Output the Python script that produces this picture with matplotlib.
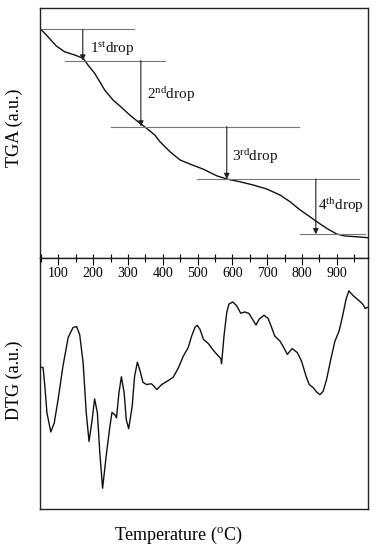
import matplotlib.pyplot as plt
from matplotlib.ticker import MultipleLocator, NullLocator

plt.rcParams['font.family'] = ['Liberation Serif', 'DejaVu Serif']
plt.rcParams['mathtext.default'] = 'regular'

# TGA curve (arbitrary units)
tga_temp = [47, 70, 94, 118, 147, 171, 185, 204, 219, 233, 257, 281, 305,
            329, 348, 377, 392, 421, 450, 478, 517, 555, 584, 622, 660, 699,
            737, 766, 795, 823, 843, 871, 900, 924, 957, 991]
tga_val = [91.9, 88.5, 84.8, 82.5, 81.2, 79.9, 77.2, 73.9, 70.5, 67.2, 63.2,
           60.3, 57.2, 54.5, 52.5, 49.2, 46.5, 42.5, 39.2, 37.6, 35.5, 32.9,
           31.6, 30.5, 29.2, 27.6, 25.2, 22.5, 19.2, 16.5, 14.5, 11.9, 9.6,
           8.8, 8.5, 8.1]

# DTG curve (arbitrary units)
dtg_temp = [47, 49, 56, 61, 67, 78, 88, 99, 113, 128, 142, 152, 161, 171,
            180, 188, 197, 204, 212, 219, 227, 238, 248, 254, 262, 267, 274,
            281, 289, 295, 302, 312, 319, 327, 335, 343, 353, 367, 373, 383,
            397, 416, 430, 445, 459, 473, 483, 493, 499, 507, 517, 531, 545,
            560, 567, 569, 576, 584, 590, 601, 613, 624, 636, 648, 658, 668,
            677, 691, 703, 713, 722, 737, 748, 758, 772, 787, 799, 812, 821,
            833, 843, 852, 861, 871, 883, 895, 907, 917, 927, 935, 948, 962,
            975, 982, 988]
dtg_val = [56.5, 56.5, 56.3, 48.9, 38.3, 30.7, 34.3, 43.6, 56.9, 68.3, 72.3,
           72.7, 69.6, 58.3, 38.3, 26.9, 35.6, 43.9, 38.3, 22.3, 8.3, 22.0,
           32.9, 38.5, 37.6, 36.3, 46.3, 52.7, 46.3, 35.6, 32.0, 40.9, 52.9,
           58.5, 54.9, 50.5, 49.6, 49.9, 49.2, 47.6, 49.6, 51.2, 52.5, 56.3,
           60.9, 64.3, 68.9, 72.5, 73.2, 71.6, 67.6, 65.9, 63.3, 60.9, 59.9,
           57.9, 68.9, 78.3, 81.6, 82.5, 80.9, 78.0, 78.5, 77.9, 75.6, 73.3,
           75.6, 77.2, 75.9, 72.3, 68.9, 66.9, 64.3, 61.6, 63.9, 62.3, 58.9,
           52.9, 49.6, 48.3, 46.5, 45.6, 46.9, 51.6, 59.6, 66.9, 70.9, 76.9,
           83.6, 86.9, 84.9, 83.3, 81.6, 79.9, 80.3]

# drop levels: horizontal guide lines (level, x start, x end)
level_y = [91.5, 79.0, 52.6, 31.6, 9.5]
level_x0 = [47, 118, 250, 499, 795]
level_x1 = [316, 405, 792, 965, 982]

# arrows and labels for each drop
arrow_x = [170, 337, 584, 840]
drop_names = ['1$^{st}$drop', '2$^{nd}$drop', '3$^{rd}$drop', '4$^{th}$drop']
label_x = [191, 354, 598, 847]
label_y = [83.6, 65.2, 40.6, 20.8]

fig = plt.figure(figsize=(3.78, 5.5), dpi=100)
ax1 = fig.add_axes([0.1058, 0.5309, 0.8677, 0.4545])
ax2 = fig.add_axes([0.1058, 0.0745, 0.8677, 0.4564])

for ax in (ax1, ax2):
    ax.set_xlim(47, 990)
    ax.set_ylim(0, 100)
    ax.yaxis.set_major_locator(NullLocator())
    ax.xaxis.set_major_locator(MultipleLocator(100))
    ax.xaxis.set_minor_locator(MultipleLocator(50))
    for s in ax.spines.values():
        s.set_linewidth(1.0)
        s.set_color('#222222')

# top panel: TGA
ax1.plot(tga_temp, tga_val, color='#111111', lw=1.0)
for i in range(len(level_y)):
    ax1.plot([level_x0[i], level_x1[i]], [level_y[i], level_y[i]],
             color='#777777', lw=0.8)
for i in range(len(arrow_x)):
    ax1.annotate('', xy=(arrow_x[i], level_y[i + 1]),
                 xytext=(arrow_x[i], level_y[i]),
                 arrowprops=dict(arrowstyle='-|>', color='#222222', lw=0.8,
                                 mutation_scale=8, shrinkA=0, shrinkB=0))
    ax1.text(label_x[i], label_y[i], drop_names[i], fontsize=11,
             ha='left', va='center', color='#111111')
ax1.tick_params(axis='x', which='both', direction='in', length=3,
                labelbottom=False, bottom=True, top=False, width=0.8)
ax1.set_ylabel('TGA (a.u.)', fontsize=13)

# bottom panel: DTG
ax2.plot(dtg_temp, dtg_val, color='#111111', lw=1.0)
ax2.xaxis.tick_top()
ax2.tick_params(axis='x', which='major', direction='in', length=5, width=0.8,
                pad=-16, labelsize=10)
ax2.tick_params(axis='x', which='minor', direction='in', length=3, width=0.8)
ax2.set_xticks(range(100, 1000, 100))
ax2.set_ylabel('DTG (a.u.)', fontsize=13)

fig.text(0.473, 0.027, 'Temperature ($^{o}$C)', fontsize=13,
         ha='center', va='center')
ax1.yaxis.set_label_coords(-0.052, 0.52)
ax2.yaxis.set_label_coords(-0.052, 0.514)

fig.savefig('out.png', dpi=100)
